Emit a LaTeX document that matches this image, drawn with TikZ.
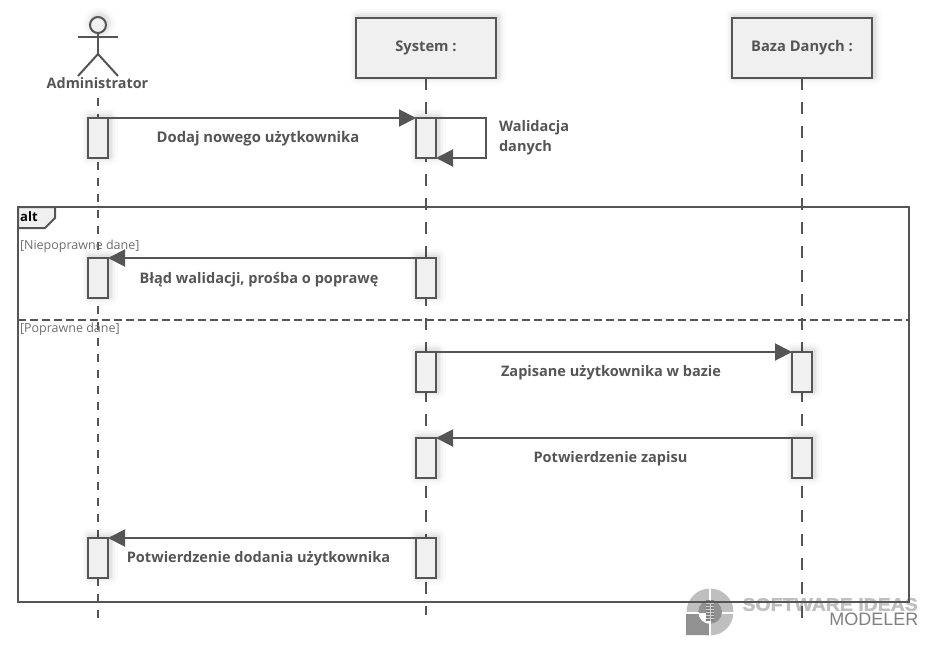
\documentclass[tikz,border=0pt]{standalone}
\usepackage{fontspec}
\setmainfont{Open Sans}
\newfontfamily\wmfont{Liberation Sans}
\newfontfamily\wmheavy[BoldFeatures={FakeBold=1.5}]{Liberation Sans}
\usetikzlibrary{arrows.meta,calc}
\pgfdeclarelayer{wm}
\pgfdeclarelayer{lines}
\pgfsetlayers{wm,lines,main}
\definecolor{ink}{HTML}{555555}
\definecolor{boxfill}{HTML}{F0F0F0}
\tikzset{
  softshadow/.style={
    preaction={draw=black,draw opacity=.018,line width=16pt,line join=round,transform canvas={shift={(1.5pt,1.5pt)}}},
    preaction={draw=black,draw opacity=.022,line width=11pt,line join=round,transform canvas={shift={(1.5pt,1.5pt)}}},
    preaction={draw=black,draw opacity=.03,line width=7pt,line join=round,transform canvas={shift={(1.5pt,1.5pt)}}},
    preaction={draw=black,draw opacity=.04,line width=4pt,line join=round,transform canvas={shift={(1.5pt,1.5pt)}}}},
  headbox/.style={draw=ink,fill=boxfill,line width=2pt,minimum width=140pt,minimum height=60pt,outer sep=0pt,inner sep=0pt,softshadow,
    font=\fontsize{14.7}{17}\selectfont\bfseries,text=ink},
  actbox/.style={draw=ink,fill=boxfill,line width=2pt,minimum width=20pt,minimum height=40pt,outer sep=0pt,inner sep=0pt,softshadow},
  adminline/.style={draw=ink,line width=2pt,dash pattern=on 8pt off 8pt},
  lifeline/.style={draw=ink,line width=2pt,dash pattern=on 12pt off 12pt},
  msg/.style={draw=ink,line width=2pt,-{Triangle[length=17pt,width=17pt,fill=ink]}},
  msgtext/.style={font=\fontsize{14.55}{17}\selectfont\bfseries,text=ink,inner sep=0pt,outer sep=0pt},
  guard/.style={font=\fontsize{12.5}{14}\selectfont,text=ink!85,inner sep=0pt,outer sep=0pt,anchor=west},
  stick/.style={draw=ink,line width=2pt},
}
\begin{document}
\begin{tikzpicture}[x=1pt,y=-1pt]
\useasboundingbox (0,0) rectangle (929,646);

% watermark
\begin{pgfonlayer}{wm}
  \fill[black!25,even odd rule] (710,612) circle[radius=23.5] (710,612) circle[radius=12];
  \fill[black!43,even odd rule] (686,613) rectangle (709,635) (710,612) circle[radius=12];
  \fill[white] (709,586) rectangle (711,637);
  \fill[white] (684,612) rectangle (698.5,613.5);
  \fill[white] (721.5,612) rectangle (736,613.5);
  \fill[black!50] (706,600) rectangle (714,620.5);
  \foreach \yy in {602.5,605.5,608.5,611.5,614.5,617.5}{\fill[black!18] (706,\yy) rectangle (714,\yy+1);}
  \fill[black!18] (709.5,600) rectangle (710.5,620.5);
  \node[inner sep=0pt,anchor=east,text=black!25,xscale=1.07] (wmA) at (918,604.5) {\wmheavy\fontsize{18.2}{20}\selectfont\bfseries SOFTWARE IDEAS};
  \node[inner sep=0pt,anchor=east,text=black!50] (wmB) at (918.5,619.5) {\wmfont\fontsize{18}{20}\selectfont MODELER};
\end{pgfonlayer}

% actor
\node[circle,draw=ink,line width=2pt,fill=boxfill,minimum size=16pt,inner sep=0pt,outer sep=0pt,softshadow] (head) at (98,25) {};
\coordinate (armL) at (78,37);
\coordinate (armR) at (118,37);
\coordinate (hip) at (98,54);
\coordinate (legL) at (78,76);
\coordinate (legR) at (118,76);
\draw[stick] (armL) -- (armR);
\draw[stick] (head.south) -- (hip);
\draw[stick] (legL) -- (hip) -- (legR);
\node[msgtext,font=\fontsize{14.4}{17}\selectfont\bfseries] (admin) at (97.5,83.5) {Administrator};

% heads
\node[headbox] (sys) at (426,48) {\raisebox{-1.5pt}{System :}};
\node[headbox] (db) at (802,48) {\raisebox{-1.5pt}{Baza Danych :}};

% activations
\node[actbox] (a1) at (98,138) {};
\node[actbox] (a2) at (98,278) {};
\node[actbox] (a3) at (98,558) {};
\node[actbox] (s1) at (426,138) {};
\node[actbox] (s2) at (426,278) {};
\node[actbox] (s3) at (426,372) {};
\node[actbox] (s4) at (426,458) {};
\node[actbox] (s5) at (426,558) {};
\node[actbox] (d1) at (802,372) {};
\node[actbox] (d2) at (802,458) {};

% lifelines and frame
\coordinate (adminTop) at (98,98);
\coordinate (adminEnd) at (98,618);
\coordinate (sysEnd) at (426,615);
\coordinate (dbEnd) at (802,618);
\begin{pgfonlayer}{lines}
  \draw[adminline] (adminTop) -- (adminEnd);
  \draw[lifeline] (sys.south) -- (sysEnd);
  \draw[lifeline] (db.south) -- (dbEnd);
  \node[draw=ink,line width=2pt,minimum width=891pt,minimum height=395pt,outer sep=0pt,inner sep=0pt] (frame) at (463.5,404.5) {};
  \coordinate (divL) at (18,320);
  \coordinate (divR) at (909,320);
  \draw[draw=ink,line width=2pt,dash pattern=on 8pt off 4pt] (divL) -- (divR);
\end{pgfonlayer}

% frame tab
\coordinate (tabA) at (18,207);
\coordinate (tabB) at (55,207);
\coordinate (tabC) at (55,218);
\coordinate (tabD) at (45,228);
\coordinate (tabE) at (18,228);
\filldraw[draw=ink,fill=boxfill,line width=2pt] (tabA) -- (tabB) -- (tabC) -- (tabD) -- (tabE) -- cycle;
\node[inner sep=0pt,anchor=west,text=black,font=\fontsize{13}{15}\selectfont\bfseries] (altlabel) at (20,217) {alt};
\node[guard] (g1) at (20,246) {[Niepoprawne dane]};
\node[guard] (g2) at (20,329.5) {[Poprawne dane]};

% messages
\draw[msg] (a1.north east) -- (s1.north west);
\draw[msg] (s1.north east) -- ++(50,0) |- (s1.south east);
\draw[msg] (s2.north west) -- (a2.north east);
\draw[msg] (s3.north east) -- (d1.north west);
\draw[msg] (d2.north west) -- (s4.north east);
\draw[msg] (s5.north west) -- (a3.north east);

% message labels
\node[msgtext,font=\fontsize{14.8}{17}\selectfont\bfseries] (m1) at (258,139) {Dodaj nowego użytkownika};
\node[msgtext,anchor=west] (m2a) at (499,127.5) {Walidacja};
\node[msgtext,anchor=west] (m2b) at (499,147.5) {danych};
\node[msgtext] (m3) at (259,280) {Błąd walidacji, prośba o poprawę};
\node[msgtext] (m4) at (611,373) {Zapisane użytkownika w bazie};
\node[msgtext] (m5) at (610.5,459) {Potwierdzenie zapisu};
\node[msgtext] (m6) at (258.5,559) {Potwierdzenie dodania użytkownika};
\end{tikzpicture}
\end{document}
